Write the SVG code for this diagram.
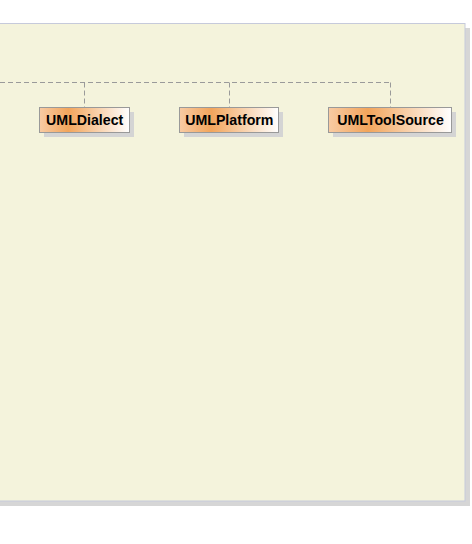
<svg xmlns="http://www.w3.org/2000/svg" width="472" height="544" viewBox="0 0 472 544">
<defs>
<linearGradient id="g" x1="0" y1="0" x2="1" y2="0">
<stop offset="0" stop-color="#f8cba4"/>
<stop offset="0.32" stop-color="#f2a55c"/>
<stop offset="1" stop-color="#ffffff"/>
</linearGradient>
<style>
.sh{fill:#d4d4d4}
.box{fill:url(#g);stroke:#999999;stroke-width:1}
.lbl{font-family:"Liberation Sans",Arial,sans-serif;font-weight:bold;font-size:14.2px;fill:#000;text-anchor:middle}
.dash{fill:none;stroke:#9a9a9a;stroke-width:1;stroke-dasharray:5,3}
</style>
</defs>
<rect x="-10" y="28" width="480" height="478" fill="#d6d6d6"/>
<rect x="-10" y="23.5" width="475" height="477.5" fill="#f4f3dc" stroke="#c6cadb" stroke-width="1"/>
<g id="connectors">
<path class="dash" d="M0 82.5 H390.5 M84.5 82.5 V107 M229.5 82.5 V107 M390.5 82.5 V107"/>
</g>
<g id="UMLDialect">
<rect class="sh" x="44" y="112" width="90" height="25"/>
<rect class="box" x="39.5" y="107.5" width="90" height="25"/>
<text class="lbl" x="84.7" y="125">UMLDialect</text>
</g>
<g id="UMLPlatform">
<rect class="sh" x="184" y="112" width="99" height="25"/>
<rect class="box" x="179.5" y="107.5" width="99" height="25"/>
<text class="lbl" x="229.3" y="125">UMLPlatform</text>
</g>
<g id="UMLToolSource">
<rect class="sh" x="333" y="112" width="123" height="25"/>
<rect class="box" x="328.5" y="107.5" width="123" height="25"/>
<text class="lbl" x="390.5" y="125">UMLToolSource</text>
</g>
</svg>
